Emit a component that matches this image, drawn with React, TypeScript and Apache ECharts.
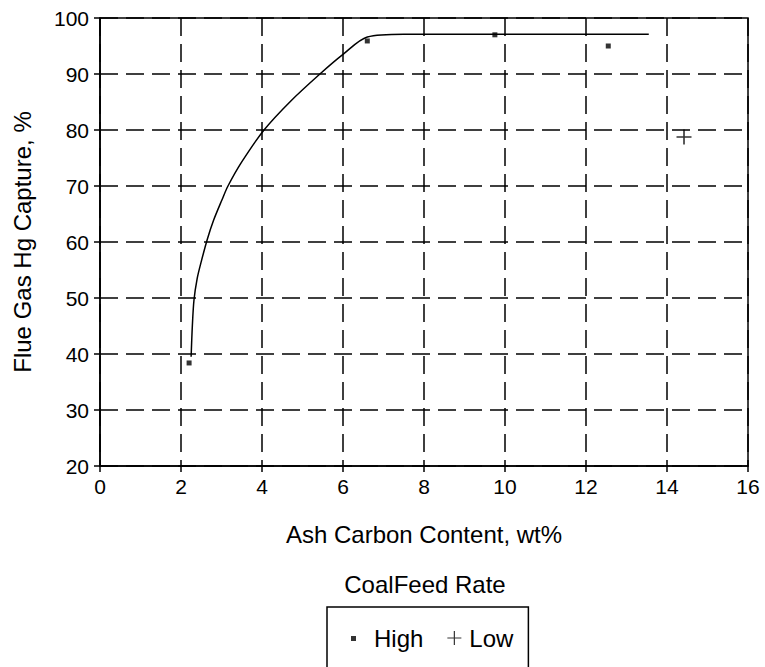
import React, { useEffect, useRef } from 'react';
import * as echarts from 'echarts';

// High coal feed rate measurements
const highX = [2.2, 6.6, 9.75, 12.55];
const highY = [38.4, 95.9, 97.0, 95.0];
// Low coal feed rate measurement
const lowX = [14.42];
const lowY = [78.75];
// Trend curve
const curveX = [2.25, 2.28, 2.32, 2.4, 2.5, 2.65, 2.8, 3.01, 3.16, 3.5, 4.05, 4.7, 5.43, 6.0, 6.6, 7.5, 13.55];
const curveY = [39.5, 45, 49.6, 53.5, 56.5, 60.5, 63.8, 67.5, 70, 74.3, 80, 85.1, 90, 93.5, 96.6, 97.1, 97.1];

const xMin = 0, xMax = 16, xStep = 2;
const yMin = 20, yMax = 100, yStep = 10;

const FONT = "'Liberation Sans', Arial, sans-serif";
const PLUS = 'path://M6.25,0H7.75V6.25H14V7.75H7.75V14H6.25V7.75H0V6.25H6.25Z';
const PLUS_LEGEND = 'path://M0,0M20,20M9.4,3H10.6V9.4H17V10.6H10.6V17H9.4V10.6H3V9.4H9.4Z';
const SQUARE_LEGEND = 'path://M0,0M20,20M2,8H7V13H2Z';

export default function App() {
  const ref = useRef<HTMLDivElement>(null);
  useEffect(() => {
    const chart = echarts.init(ref.current!, null, { renderer: 'svg' });
    const gridLine = { show: true, lineStyle: { color: '#000', width: 1.5, type: [18, 8] as any } };
    chart.setOption({
      animation: false,
      backgroundColor: '#fff',
      textStyle: { fontFamily: FONT, color: '#000' },
      grid: { left: 100, right: 17, top: 18, bottom: 201, show: true, borderColor: '#000', borderWidth: 1.5 },
      xAxis: {
        type: 'value', min: xMin, max: xMax, interval: xStep,
        name: 'Ash Carbon Content, wt%', nameLocation: 'middle', nameGap: 56,
        nameTextStyle: { fontSize: 24, color: '#000', fontFamily: FONT },
        axisLine: { show: true, lineStyle: { color: '#000', width: 1.5 } },
        axisTick: { show: true, length: 6, lineStyle: { color: '#000', width: 1.5 } },
        axisLabel: { fontSize: 21, color: '#000', margin: 10, fontFamily: FONT },
        splitLine: gridLine,
      },
      yAxis: {
        type: 'value', min: yMin, max: yMax, interval: yStep,
        name: 'Flue Gas Hg Capture, %', nameLocation: 'middle', nameGap: 66, nameRotate: 90,
        nameTextStyle: { fontSize: 24, color: '#000', fontFamily: FONT },
        axisLine: { show: true, lineStyle: { color: '#000', width: 1.5 } },
        axisTick: { show: true, length: 6, lineStyle: { color: '#000', width: 1.5 } },
        axisLabel: { fontSize: 21, color: '#000', margin: 11, fontFamily: FONT },
        splitLine: gridLine,
      },
      legend: {
        left: 327, top: 607,
        padding: [19, 15, 40, 22],
        borderColor: '#000', borderWidth: 1.5,
        itemWidth: 20, itemHeight: 20, itemGap: 21,
        textStyle: { fontSize: 24, color: '#000', fontFamily: FONT },
        data: [
          { name: 'High', icon: SQUARE_LEGEND, itemStyle: { color: '#000' } },
          { name: 'Low', icon: PLUS_LEGEND, itemStyle: { color: '#000' } },
        ],
      },
      graphic: [
        {
          type: 'text', x: 425, y: 584,
          style: { text: 'CoalFeed Rate', fontSize: 24, fontFamily: FONT, fill: '#000', textAlign: 'center', textVerticalAlign: 'middle' },
        },
      ],
      series: [
        {
          name: 'Trend', type: 'line', smooth: 0.3, showSymbol: false, symbol: 'none',
          data: curveX.map((x, i) => [x, curveY[i]]),
          lineStyle: { color: '#000', width: 1.5 }, silent: true, z: 3,
        },
        {
          name: 'High', type: 'scatter', symbol: 'rect', symbolSize: 5,
          data: highX.map((x, i) => [x, highY[i]]),
          itemStyle: { color: '#000' }, z: 4,
        },
        {
          name: 'Low', type: 'scatter', symbol: PLUS, symbolSize: 15,
          data: lowX.map((x, i) => [x, lowY[i]]),
          itemStyle: { color: '#000' }, z: 4,
        },
      ],
    });
    return () => chart.dispose();
  }, []);
  return <div ref={ref} style={{ position: 'fixed', left: 0, top: 0, width: 765, height: 667 }} />;
}
